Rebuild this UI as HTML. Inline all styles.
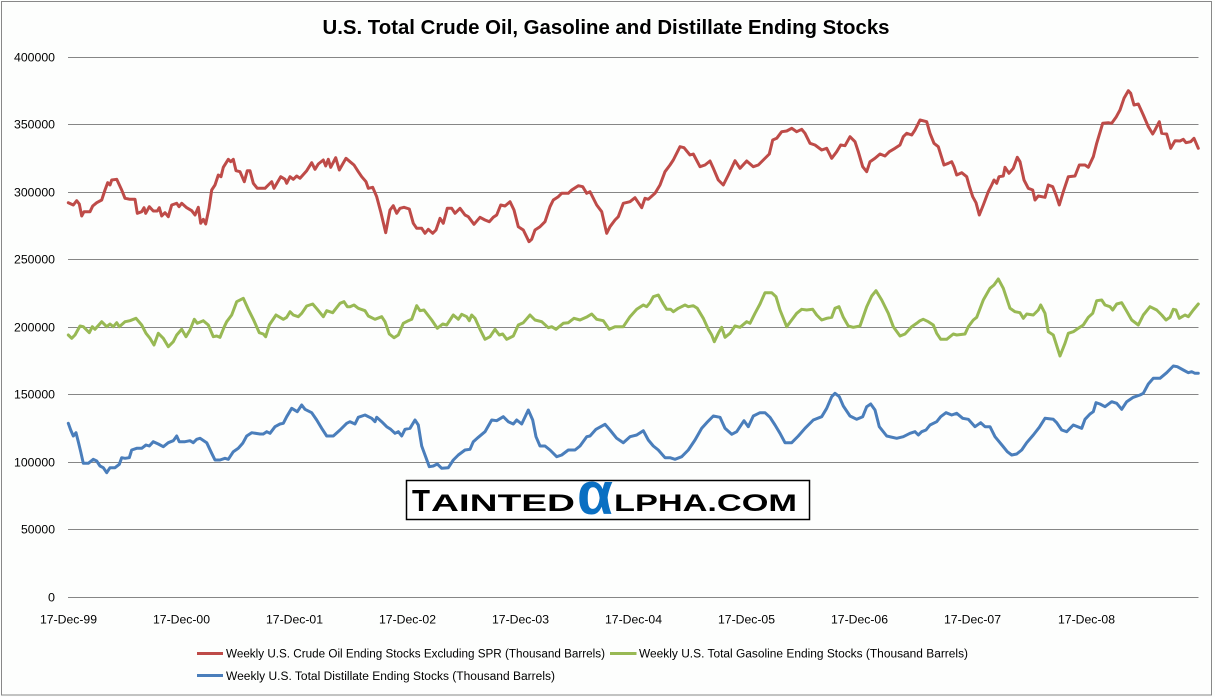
<!DOCTYPE html>
<html><head><meta charset="utf-8"><style>
html,body{margin:0;padding:0;background:#fdfefd;}
svg{display:block;}
text{font-family:"Liberation Sans",sans-serif;fill:#000;}
</style></head><body>
<svg width="1215" height="697" viewBox="0 0 1215 697" xmlns="http://www.w3.org/2000/svg">
<rect x="0" y="0" width="1215" height="697" fill="#fdfefd"/>
<rect x="1.5" y="1.5" width="1210" height="693.5" fill="none" stroke="#888" stroke-width="1"/>
<text x="606" y="34" text-anchor="middle" font-size="20" font-weight="bold" textLength="567" lengthAdjust="spacingAndGlyphs">U.S. Total Crude Oil, Gasoline and Distillate Ending Stocks</text>
<g stroke="#868686" stroke-width="1">
<line x1="68" y1="57.5" x2="1198.5" y2="57.5"/>
<line x1="68" y1="124.5" x2="1198.5" y2="124.5"/>
<line x1="68" y1="192.5" x2="1198.5" y2="192.5"/>
<line x1="68" y1="259.5" x2="1198.5" y2="259.5"/>
<line x1="68" y1="327.5" x2="1198.5" y2="327.5"/>
<line x1="68" y1="394.5" x2="1198.5" y2="394.5"/>
<line x1="68" y1="462.5" x2="1198.5" y2="462.5"/>
<line x1="68" y1="529.5" x2="1198.5" y2="529.5"/>
<line x1="68" y1="597.5" x2="1198.5" y2="597.5"/>
</g>
<g font-size="11.5" text-anchor="end">
<text x="55" y="61.5" textLength="41" lengthAdjust="spacingAndGlyphs">400000</text>
<text x="55" y="128.5" textLength="41" lengthAdjust="spacingAndGlyphs">350000</text>
<text x="55" y="196.5" textLength="41" lengthAdjust="spacingAndGlyphs">300000</text>
<text x="55" y="263.5" textLength="41" lengthAdjust="spacingAndGlyphs">250000</text>
<text x="55" y="331.5" textLength="41" lengthAdjust="spacingAndGlyphs">200000</text>
<text x="55" y="398.5" textLength="41" lengthAdjust="spacingAndGlyphs">150000</text>
<text x="55" y="466.5" textLength="41" lengthAdjust="spacingAndGlyphs">100000</text>
<text x="55" y="533.5" textLength="34" lengthAdjust="spacingAndGlyphs">50000</text>
<text x="55" y="601.5" textLength="7" lengthAdjust="spacingAndGlyphs">0</text>
</g>
<g font-size="11.5" text-anchor="middle">
<text x="68.5" y="623.5" textLength="57" lengthAdjust="spacingAndGlyphs">17-Dec-99</text>
<text x="181.5" y="623.5" textLength="57" lengthAdjust="spacingAndGlyphs">17-Dec-00</text>
<text x="294.5" y="623.5" textLength="57" lengthAdjust="spacingAndGlyphs">17-Dec-01</text>
<text x="407.5" y="623.5" textLength="57" lengthAdjust="spacingAndGlyphs">17-Dec-02</text>
<text x="520.5" y="623.5" textLength="57" lengthAdjust="spacingAndGlyphs">17-Dec-03</text>
<text x="633.5" y="623.5" textLength="57" lengthAdjust="spacingAndGlyphs">17-Dec-04</text>
<text x="746.5" y="623.5" textLength="57" lengthAdjust="spacingAndGlyphs">17-Dec-05</text>
<text x="859.5" y="623.5" textLength="57" lengthAdjust="spacingAndGlyphs">17-Dec-06</text>
<text x="972.5" y="623.5" textLength="57" lengthAdjust="spacingAndGlyphs">17-Dec-07</text>
<text x="1086.5" y="623.5" textLength="57" lengthAdjust="spacingAndGlyphs">17-Dec-08</text>
</g>
<g fill="none" stroke-width="3" stroke-linejoin="round" stroke-linecap="round">
<polyline stroke="#BE4B48" points="68.3,202.7 73.3,205 76.7,200.7 79.3,204 81.7,216 84,211.7 90,211.7 92.7,206 96.7,202.7 101.7,200 105,190 107.7,182.7 110,185 111.7,180 116.7,179.3 121.7,190 125,198.3 130,199.3 135,199.3 137.3,213.3 141.7,211.7 144,207.7 145.7,213.3 149.3,206.7 153.3,211 157.3,211 159.3,207.7 161.7,216 165,212.7 168.3,216.7 171.7,205 176.7,203.3 179,206.7 181.7,203.3 186.7,207.7 191.7,210.7 195,215 198.3,207.3 200.7,223.3 203.3,219.3 205.7,224 209,208.3 211.7,190 215,185 218.3,175 221,176.7 223.3,167.3 228.3,159.3 230.7,161.7 233.3,159.3 236,170.7 240,171.7 244.3,181.7 247.3,170.7 250,170.7 253.3,183.3 257.3,188.3 265,188.3 269.3,184 271.7,181.7 274,188.3 280.7,176.7 285,179.3 286.7,183.3 290,176.7 293.3,179.3 296.7,176 300,178.3 306.7,170.7 311.7,162.7 315,169.3 318.3,164 323.3,160 325.7,166 328.3,159.3 330.7,167.3 335.7,157.7 339.3,170 342.7,164 346,158.3 350,161.7 354,165 358.3,171.7 361.7,176.7 366,181.7 368.3,188.3 372.7,187.3 376.7,196.7 380.7,211.7 385.7,232.7 390,210 393.3,205.7 396.7,213.3 400,208.3 404,207.3 409.3,209 413.3,223.3 416.7,228.3 421.7,228.3 425,233.3 428.3,229.3 432.7,233.3 436,230 440,218.3 443.3,223.3 447.3,208.3 451.7,208.3 455,213.3 460,208.3 465,215 468.3,216.7 474,224.3 480,217.3 485,220 489.3,221.7 493.3,217.3 496.7,215 500.7,205 505,206 510,201.7 514,210 518.3,226.7 523.3,230 529,241.7 531.7,239.3 535,230 540,226.7 545,221.7 550,206.7 553.3,200 558.3,196.7 561.7,193.3 568.3,193.3 571.7,190 578.3,185.7 582.7,186.7 586.7,193.3 590,191.7 596.7,205 601.7,211.7 606.7,233.3 610,226.7 615,220 618.3,216.7 623.3,203.3 630,201.7 635,197.7 641.7,207.7 645,198.3 648.3,199.3 655,193.3 660,185 665,171.7 670,165 673.3,160 680,146.7 684,147.7 690,155 693.3,154 700,166.7 705,165 710,161 713.3,168.3 718.3,180 723.3,185 728.3,175 735,160.7 740,168.3 746.7,161 753.3,166.7 758.3,165 763.3,160 769.3,154 772.7,140 776.7,138.3 781.7,131.7 786.7,131 791.7,128.3 796.7,131.7 801.7,129.3 805,133.3 810,143.3 815,145 821.7,150 826.7,148.3 831.7,158.3 836.7,151.7 840.7,145 845,145.7 850,136.7 855,141.7 858.3,151.7 862.7,166.7 866.7,171.7 870,161.7 875,158.3 880,154 885,156 889.3,151.7 895,148.3 900,145 903.3,136.7 906.7,133.3 911.7,135 915,130 920,120 926.7,121.7 930,133.3 934,143.3 938.3,146.7 944,165 948.3,163.3 951.7,161.7 954,166.7 956.7,175 961.7,172.7 966.7,176.7 969.3,186 972.7,196.7 976,202.7 979.3,215 983.3,205 988.3,191.7 991.7,185 994,180 996.7,183.3 999,176.7 1003.3,176 1005,167.3 1009,173.3 1013.3,168.3 1017.3,157.3 1020,161.7 1024,180 1028.3,188.3 1032.7,190 1035,200 1038.3,196 1045,197.3 1048.3,185 1052.7,186.7 1056,195 1059.3,205 1063.3,191.7 1068.3,176.7 1075,176 1079.3,165 1085,165 1088.3,167.3 1093.3,156.7 1096.7,143.3 1102.7,123.3 1108.3,122.7 1111.7,123.3 1116,117.3 1120,110 1124,98.3 1128.3,90.7 1130.7,93.3 1134,105 1138.3,104 1143.3,115 1148.3,126.7 1152.7,134 1155,130 1159.3,121.7 1161.7,133.3 1166.7,134 1170.7,148.3 1175,140.7 1180,141 1183.3,139.3 1186,142.7 1190.7,141.7 1194,138.3 1198.3,148.3"/>
<polyline stroke="#98B954" points="68.3,335 71.7,338.3 75,335 80,326 83.3,326.7 89.3,332.7 92.3,326.7 95,329.3 101.7,321.7 106.7,326.7 110,324 113.3,326.7 116.7,322.7 119.3,326.7 125,321.7 130,320.7 136,318.3 141.7,325 146,333.3 150,338.3 154,345 158.3,333.3 163.3,338.3 168.3,346.7 173.3,341.7 176.7,335 181.7,329.3 186,336.7 190,330 194.3,319.3 197.3,323.3 203.3,320.7 208.3,325 213.3,336.7 216.7,336 220,337.3 224.3,326.7 226.7,321.7 231.7,315 236.7,301.7 243.3,298.3 248.3,309.3 253.3,319.3 259.3,332.7 263.3,334 265.7,336.7 269.3,325 276,315 283.3,319.3 286.7,317.3 290,311.7 293.3,315 298.3,316.7 301.7,313.3 306.7,306 312.7,304 317.3,309.3 323.3,316.7 326.7,310.7 332.7,312.7 340,303.3 344,301.7 347.3,306.7 350,306.7 354,305 358.3,308.3 365,310.7 368.3,316 375,319.3 381.7,316.7 385,321.7 389.3,334 394,337.7 398.3,335 403.3,323.3 408.3,320.7 411.7,319.3 416.7,305.7 420,310.7 424,310 431.7,320 437.3,328.3 442.7,324 446.7,325 453.3,315 458.3,319.3 461.7,314.3 466.7,316.7 469.3,320.7 471.7,315 475,318.3 480,329.3 485,339.3 490,336.7 495,329.3 499.3,335 502.7,334 506.7,339.3 513.3,336 518.3,325 523.3,322.7 530,315 535,320 541.7,321.7 548.3,327.7 551.7,326.7 556,329.3 563.3,323.3 568.3,322.7 574,318.3 580,320 587.3,316.7 591.7,314 596.7,319.3 603.3,320.7 609.3,329.3 615,326.7 623.3,326.7 630,316.7 636.7,309.3 643.3,305 646.7,306.7 650,302.7 653.3,296.7 658.3,295 663.3,304 666.7,309.3 670.7,309.3 673.3,311.7 678.3,308.3 685,305 688.3,306.7 693.3,305.7 697.3,308.3 703.3,318.3 708.3,329.3 711.7,335 714.3,341.7 718.3,333.3 721.7,327.3 725,337.3 730,333.3 735,326 740,327.3 746.7,321.7 750,323.3 755,313.3 760,304 765,292.7 771.7,292.7 776,296.7 780,310 786.7,326.7 791.7,320 796.7,313.3 801.7,309.3 806.7,310 812.7,309.3 816.7,315 821.7,320 826.7,318.3 831.7,317.3 835,308.3 839,306.7 843.3,317.3 848.3,326 853.3,327.3 860,326 866.7,306.7 871.7,296 876,290.7 881.7,300 888.3,313.3 893.3,326.7 900,336 905,334 911.7,326.7 916.7,323.3 920,320.7 923.3,319.3 928.3,321.7 933.3,325 936.7,333.3 940.7,339.3 946.7,339.3 953.3,334 956.7,335 965,334 968.3,326.7 973.3,320 976.7,317.3 983.3,300 990,288.3 994,285 998.3,279 1003.3,288.3 1010,308.3 1015,311.7 1020,312.7 1023.3,318.3 1026.7,314 1033.3,315 1038.3,310 1040.7,305 1045,313.3 1048.3,331.7 1053.3,335 1060,356 1065,343.3 1068.3,333.3 1073.3,331.7 1078.3,328.3 1083.3,325 1088.3,317.3 1092.7,313.3 1096.7,300.7 1101.7,300 1105,305 1110,306.7 1112.7,310 1116.7,304 1121.7,302.7 1126,310 1131.7,320 1138.3,325 1143.3,315 1150,306.7 1156.7,310 1161.7,315 1166,320 1170,317.3 1173.3,309.3 1176,310 1179.3,318.3 1185,315 1188.3,316.7 1193.3,310 1198.3,304"/>
<polyline stroke="#4A7EBB" points="68.3,423.3 70.7,430 73.3,436 76,432.7 78.3,441.7 80.7,451.7 83.3,463.3 88.3,463.3 93.3,459.3 96.7,461 100,466 103.3,467.7 106.7,472.7 110,467.7 115,467.7 119.3,464.3 121.7,457.7 125,458.3 129.3,457.7 131.7,450 136.7,448.3 141.7,448.3 146,445 149.3,446 153.3,441.7 158.3,444 163.3,446.7 168.3,442.7 173.3,440.7 176.7,436 179.3,441.7 185,441.7 190,440.7 193.3,442.7 196.7,439.3 200,438.3 206.7,442.7 211.7,453.3 215,460 220,460 225,458.3 228.3,459.3 233.3,451.7 238.3,448.3 242.7,443.3 246.7,436 251.7,432.7 260,434 263.3,434 266.7,431.7 270,433.3 275,426.7 280,424 283.3,423.3 286.7,416.7 291.7,408.3 297.3,411.7 301.7,405 305,409.3 311.7,412.7 316.7,420 321.7,428.3 326.7,436 333.3,436 340,430 346.7,423.3 350,421.7 355,424 358.3,417.3 365,415 371.7,418.3 375,421.7 376.7,417.3 381.7,421.7 386.7,426.7 390.7,429.3 395,433.3 398.3,431.7 401.7,436 405,429.3 410,428.3 415,420 418.3,425 421.7,446 425,455 429.3,466.7 433.3,466 437.3,464 441.7,468.3 448.3,467.7 453.3,460 458.3,455 465,450 470,449.3 473.3,441.7 478.3,437.3 485,431.7 491.7,420 496.7,420.7 503.3,416.7 508.3,421.7 513.3,424 516.7,420 521.7,424 528.3,410 532.7,420 536,436.7 540,446 545,446 550,450 556.7,456.7 561.7,455 568.3,450 575,450 580,446 586.7,436.7 590,436 596,429.3 605,424.3 610,430 616.7,438.3 623.3,442.7 630,436.7 636.7,435 643.3,430.7 648.3,440 653.3,446 658.3,450 665,457.7 670,457.7 675,459.3 681.7,456.7 688.3,450 695,440 701.7,428.3 706.7,422.7 713.3,416 720,417.3 725,428.3 731.7,434.3 736.7,431.7 744,420.7 748.3,426.7 753.3,416 760,412.7 765,412.7 770,417.3 775,425 780,433.3 785,442.7 791.7,442.7 798.3,436 805,428.3 813.3,420 821.7,416.7 826.7,408.3 831.7,396.7 835,393.3 839.3,396.7 843.3,406 850,416 856.7,419.3 862.7,416.7 866.7,406.7 870.7,404 875,410 879.3,426.7 886.7,436 896.7,438.3 903.3,436.7 910,433.3 915,431.7 918.3,435 921.7,431.7 926,430 930,425 936.7,421.7 940.7,416.7 946,412.7 951.7,415 956.7,413.3 962.7,418.3 968.3,419.3 975,426.7 980.7,422.7 985,426.7 990,426.7 995,436.7 1002.7,446 1007.3,451.7 1011.7,455 1016.7,454 1021.7,450 1026.7,442.7 1033.3,435 1039.3,427.3 1045,418.3 1053.3,419.3 1056.7,422.7 1061.7,430 1066.7,431.7 1073.3,425 1081.7,428.3 1085,419.3 1090,414 1093.3,411.7 1096,402.7 1100,404 1105,406.7 1111.7,401.7 1116.7,403.3 1121.7,409.3 1126.7,401.7 1133.3,397.3 1140,395 1143.3,393.3 1148.3,384 1153.3,378.3 1160,378.3 1166.7,372.7 1173.3,366 1177.3,366.7 1183.3,370 1188.3,372.7 1191.7,371.7 1195,373.3 1198.3,373.3"/>
</g>
<rect x="406.5" y="480.5" width="403" height="39" fill="#fff" stroke="#000" stroke-width="1.5"/>
<text x="412" y="511" font-size="31" font-weight="bold" textLength="18" lengthAdjust="spacingAndGlyphs" fill="#111">T</text>
<text x="431" y="511" font-size="24.5" font-weight="bold" textLength="144" lengthAdjust="spacingAndGlyphs" fill="#111">AINTED</text>
<text x="577" y="514" font-size="60" font-weight="bold" textLength="36" lengthAdjust="spacingAndGlyphs" style="fill:#0a6fc2">α</text>
<text x="614" y="511" font-size="24.5" font-weight="bold" textLength="183" lengthAdjust="spacingAndGlyphs" fill="#111">LPHA.COM</text>
<line x1="197" y1="653.5" x2="223" y2="653.5" stroke="#BE4B48" stroke-width="3"/>
<text x="226" y="657.5" font-size="11.5" textLength="379" lengthAdjust="spacingAndGlyphs">Weekly U.S. Crude Oil Ending Stocks Excluding SPR (Thousand Barrels)</text>
<line x1="610" y1="653.5" x2="636.5" y2="653.5" stroke="#98B954" stroke-width="3"/>
<text x="639" y="657.5" font-size="11.5" textLength="329" lengthAdjust="spacingAndGlyphs">Weekly U.S. Total Gasoline Ending Stocks (Thousand Barrels)</text>
<line x1="197" y1="675.5" x2="223" y2="675.5" stroke="#4A7EBB" stroke-width="3"/>
<text x="226" y="680" font-size="11.5" textLength="329" lengthAdjust="spacingAndGlyphs">Weekly U.S. Total Distillate Ending Stocks (Thousand Barrels)</text>
</svg>
</body></html>
